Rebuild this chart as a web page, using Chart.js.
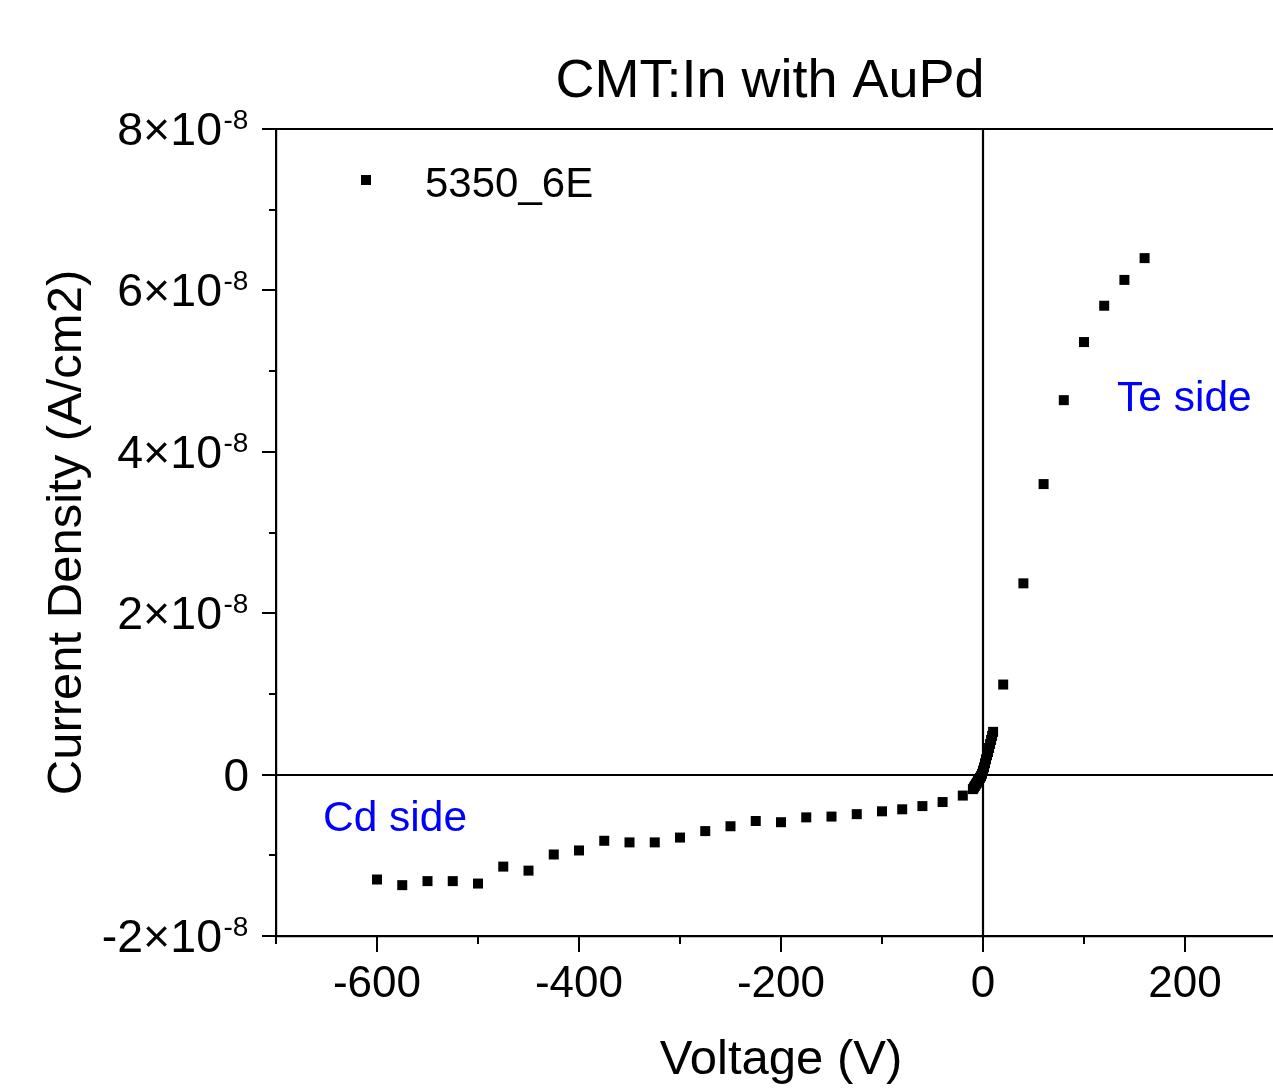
<!DOCTYPE html>
<html>
<head>
<meta charset="utf-8">
<script src="https://cdn.jsdelivr.net/npm/chart.js@4.4.1/dist/chart.umd.min.js"></script>
<style>
html,body{margin:0;padding:0;overflow:hidden;background:#fff;width:1273px;height:1092px}
#wrap{position:absolute;left:0;top:0;width:1300px;height:1092px}
</style>
</head>
<body>
<div id="wrap"><canvas id="c" width="1300" height="1092"></canvas></div>
<script>
// ---------- data ----------
const chartTitle = 'CMT:In with AuPd';
const seriesName = '5350_6E';
const xAxisTitle = 'Voltage (V)';
const yAxisTitle = 'Current Density (A/cm2)';

// Voltage (V)
const voltage = [
  -600,-575,-550,-525,-500,-475,-450,-425,-400,-375,-350,-325,-300,-275,-250,-225,-200,-175,-150,-125,-100,
  -80,-60,-40,-20,
  -10,-9,-8,-7,-6,-5,-4,-3,-2,-1,0,1,2,3,4,5,6,7,8,9,10,
  20,40,60,80,100,120,140,160
];
// Current density (A/cm2)
const currentDensity = [
  -1.30e-8,-1.37e-8,-1.32e-8,-1.32e-8,-1.35e-8,-1.14e-8,-1.19e-8,-0.99e-8,-0.94e-8,-0.82e-8,-0.84e-8,-0.84e-8,-0.78e-8,-0.70e-8,-0.64e-8,-0.575e-8,-0.59e-8,-0.53e-8,-0.52e-8,-0.49e-8,-0.455e-8,
  -0.43e-8,-0.39e-8,-0.34e-8,-0.26e-8,
  -0.18e-8,-0.16e-8,-0.14e-8,-0.12e-8,-0.10e-8,-0.08e-8,-0.06e-8,-0.04e-8,-0.02e-8,0.01e-8,0.05e-8,0.09e-8,0.14e-8,0.19e-8,0.24e-8,0.28e-8,0.33e-8,0.38e-8,0.43e-8,0.48e-8,0.53e-8,
  1.116e-8,2.37e-8,3.60e-8,4.64e-8,5.36e-8,5.81e-8,6.13e-8,6.40e-8
];

// axis ticks
const xMin = -700, xMax = 300;
const xMajorTicks = [-600,-400,-200,0,200];
const xMinorTicks = [-700,-500,-300,-100,100,300];
const xTickLabels = ['-600','-400','-200','0','200'];

const yMin = -2e-8, yMax = 8e-8;
const yMajorTicks = [-2e-8,0,2e-8,4e-8,6e-8,8e-8];
const yMinorTicks = [-1e-8,1e-8,3e-8,5e-8,7e-8];
const yTickMantissa = ['-2×10','0','2×10','4×10','6×10','8×10'];
const yTickExponent = ['-8','','-8','-8','-8','-8'];

// text annotations (data coordinates, left/baseline anchor)
const annotations = [
  {text:'Cd side', x:-653.5, y:-0.695e-8},
  {text:'Te side', x:132.7, y:4.50e-8}
];

// ---------- rendering ----------
const FONT = "'Liberation Sans', Arial, Helvetica, sans-serif";

const framePlugin = {
  id: 'frame',
  beforeDatasetsDraw(chart) {
    const {ctx, chartArea: a, scales: {x, y}} = chart;
    ctx.save();
    ctx.strokeStyle = '#000';
    ctx.lineWidth = 2.2;
    const y0 = Math.round(y.getPixelForValue(0));
    const x0 = Math.round(x.getPixelForValue(0));
    ctx.beginPath();
    ctx.moveTo(a.left, y0); ctx.lineTo(a.right, y0);
    ctx.moveTo(x0, a.top); ctx.lineTo(x0, a.bottom);
    ctx.stroke();
    ctx.restore();
  },
  afterDraw(chart) {
    const {ctx, chartArea: a, scales: {x, y}} = chart;
    ctx.save();
    ctx.strokeStyle = '#000';
    ctx.lineWidth = 2.2;
    // top frame line
    ctx.beginPath();
    ctx.moveTo(a.left - 1, a.top); ctx.lineTo(a.right, a.top);
    ctx.stroke();
    // x tick marks
    ctx.lineWidth = 2;
    ctx.beginPath();
    xMajorTicks.forEach(v => { const p = Math.round(x.getPixelForValue(v)); ctx.moveTo(p, a.bottom); ctx.lineTo(p, a.bottom + 16); });
    xMinorTicks.forEach(v => { const p = Math.round(x.getPixelForValue(v)); ctx.moveTo(p, a.bottom); ctx.lineTo(p, a.bottom + 8); });
    // y tick marks
    yMajorTicks.forEach(v => { const p = Math.round(y.getPixelForValue(v)); ctx.moveTo(a.left, p); ctx.lineTo(a.left - 14, p); });
    yMinorTicks.forEach(v => { const p = Math.round(y.getPixelForValue(v)); ctx.moveTo(a.left, p); ctx.lineTo(a.left - 7, p); });
    ctx.stroke();

    // y tick labels with superscript exponent
    ctx.fillStyle = '#000';
    ctx.textBaseline = 'alphabetic';
    yMajorTicks.forEach((v, i) => {
      const p = y.getPixelForValue(v);
      const base = p + 16;
      if (yTickExponent[i]) {
        ctx.font = '46.5px ' + FONT;
        ctx.textAlign = 'right';
        ctx.fillText(yTickMantissa[i], 222, base);
        ctx.font = '28px ' + FONT;
        ctx.textAlign = 'left';
        ctx.fillText(yTickExponent[i], 223.5, base - 16);
      } else {
        ctx.font = '46px ' + FONT;
        ctx.textAlign = 'right';
        ctx.fillText(yTickMantissa[i], 249, base);
      }
    });

    // chart title
    ctx.font = '54px ' + FONT;
    ctx.textAlign = 'center';
    ctx.fillText(chartTitle, 770, 97);

    // legend
    const ds = chart.data.datasets[0];
    ctx.fillStyle = ds.backgroundColor;
    ctx.fillRect(a.left + 85, a.top + 46, 10, 10);
    ctx.fillStyle = '#000';
    ctx.font = '42px ' + FONT;
    ctx.textAlign = 'left';
    ctx.fillText(ds.label, a.left + 149, a.top + 68);

    // annotations
    ctx.fillStyle = '#0000ff';
    ctx.font = '42.5px ' + FONT;
    annotations.forEach(an => {
      ctx.fillText(an.text, x.getPixelForValue(an.x), y.getPixelForValue(an.y));
    });
    ctx.restore();
  }
};

new Chart(document.getElementById('c'), {
  type: 'scatter',
  data: {
    datasets: [{
      label: seriesName,
      data: voltage.map((v, i) => ({x: v, y: currentDensity[i]})),
      pointStyle: 'rect',
      pointRadius: 7.07,
      pointHoverRadius: 7.07,
      backgroundColor: '#000000',
      borderColor: '#000000',
      borderWidth: 0,
      showLine: false
    }]
  },
  options: {
    responsive: false,
    animation: false,
    devicePixelRatio: 1,
    layout: {padding: {top: 129, right: 14, left: 0, bottom: 0}},
    plugins: {legend: {display: false}, title: {display: false}, tooltip: {enabled: false}},
    events: [],
    scales: {
      x: {
        type: 'linear', min: xMin, max: xMax,
        afterBuildTicks: s => { s.ticks = xMajorTicks.map(v => ({value: v})); },
        afterFit: s => { s.height = 156; },
        ticks: {
          autoSkip: false, maxRotation: 0, minRotation: 0, padding: 22, color: '#000',
          font: {family: FONT, size: 44},
          callback: v => { const i = xMajorTicks.indexOf(v); return i >= 0 ? xTickLabels[i] : ''; }
        },
        grid: {display: false, drawTicks: false},
        border: {display: true, color: '#000', width: 2.2},
        title: {display: true, text: xAxisTitle, color: '#000', font: {family: FONT, size: 49}, padding: {top: 0, bottom: 2}}
      },
      y: {
        type: 'linear', min: yMin, max: yMax,
        afterBuildTicks: s => { s.ticks = yMajorTicks.map(v => ({value: v})); },
        afterFit: s => { s.width = 276; },
        ticks: {display: false},
        grid: {display: false, drawTicks: false},
        border: {display: true, color: '#000', width: 2.2},
        title: {display: true, text: yAxisTitle, color: '#000', font: {family: FONT, size: 49}, padding: {top: 38, bottom: 0}}
      }
    }
  },
  plugins: [framePlugin]
});
</script>
</body>
</html>
